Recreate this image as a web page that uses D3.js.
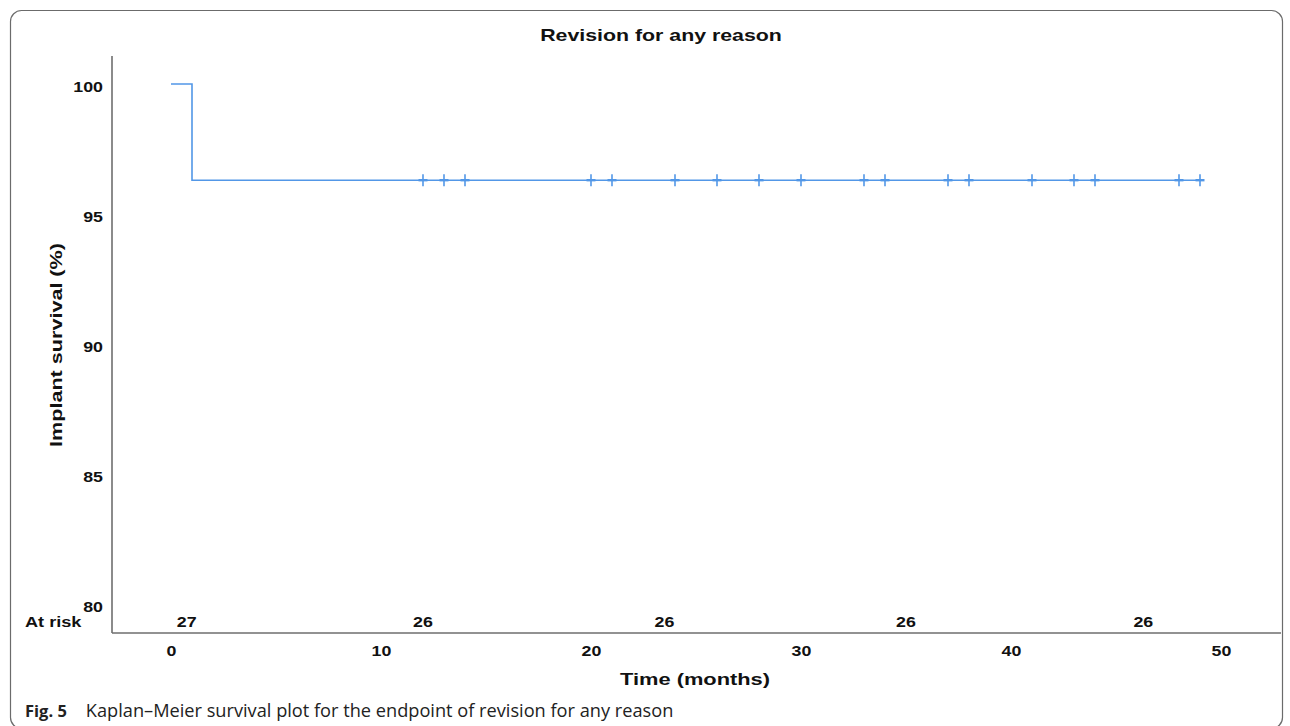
<!DOCTYPE html>
<html>
<head>
<meta charset="utf-8">
<script src="https://cdn.jsdelivr.net/npm/d3@7"></script>
<style>
  html, body { margin: 0; padding: 0; background: #fff; }
  svg { display: block; }
</style>
</head>
<body>
<svg id="chart" width="1290" height="726"></svg>
<script>
// ---- data ----
const title = "Revision for any reason";
const xLabel = "Time (months)";
const yLabel = "Implant survival (%)";
const captionLead = "Fig. 5";
const caption = "Kaplan–Meier survival plot for the endpoint of revision for any reason";
const xTicks = [0, 10, 20, 30, 40, 50];
const yTicks = [80, 85, 90, 95, 100];
// KM step points: [time, survival %]
const stepTimes = [0, 1, 49];
const stepSurvival = [100, 96.3, 96.3];
// censored observations (months)
const censorTimes = [12, 13, 14, 20, 21, 24, 26, 28, 30, 33, 34, 37, 38, 41, 43, 44, 48, 49];
// numbers at risk
const atRiskTimes = [0.75, 12, 23.5, 35, 46.3];
const atRiskCounts = [27, 26, 26, 26, 26];

// ---- layout ----
const svg = d3.select("#chart");
const x = d3.scaleLinear().domain([0, 50]).range([171, 1221]);
const y = d3.scaleLinear().domain([80, 100]).range([604, 84]);
const axisX0 = 112, axisY0 = 633, axisTop = 56, axisRight = 1281;
const blue = "#5297e7";
const bold = "'Liberation Sans', Arial, Helvetica, sans-serif";
const SX = 1.27; // horizontal stretch of the figure's text

// frame
svg.append("rect")
  .attr("x", 10.5).attr("y", 10.5)
  .attr("width", 1272).attr("height", 718)
  .attr("rx", 11).attr("ry", 11)
  .attr("fill", "none").attr("stroke", "#6b6b6b").attr("stroke-width", 1.2);

function stretchedText(px, py, size, txt, anchor, rot) {
  return svg.append("text")
    .attr("transform", `translate(${px},${py})` + (rot ? ` rotate(${rot})` : "") + ` scale(${SX},1)`)
    .attr("text-anchor", anchor || "start")
    .attr("font-family", bold).attr("font-weight", "bold").attr("font-size", size)
    .attr("fill", "#111")
    .text(txt);
}

// title
stretchedText(661, 41, 16.8, title, "middle");

// axes lines
svg.append("line")
  .attr("x1", axisX0).attr("x2", axisX0).attr("y1", axisTop).attr("y2", axisY0)
  .attr("stroke", "#6e6e6e").attr("stroke-width", 1.6);
svg.append("line")
  .attr("x1", axisX0).attr("x2", axisRight).attr("y1", axisY0).attr("y2", axisY0)
  .attr("stroke", "#6e6e6e").attr("stroke-width", 1.6);

// y tick labels
const yAxis = d3.axisLeft(y).tickValues(yTicks).tickSize(0).tickPadding(0);
const gy = svg.append("g").attr("transform", `translate(${axisX0 - 9},0)`).call(yAxis);
gy.select(".domain").remove();
gy.selectAll("text")
  .attr("font-family", bold).attr("font-weight", "bold").attr("font-size", 14)
  .attr("fill", "#111")
  .attr("dy", "0.55em")
  .attr("transform", `scale(${SX},1)`);

// x tick labels
const xAxis = d3.axisBottom(x).tickValues(xTicks).tickSize(0).tickPadding(0);
const gx = svg.append("g").attr("transform", `translate(0,${axisY0 + 13})`).call(xAxis);
gx.select(".domain").remove();
gx.selectAll("text")
  .attr("font-family", bold).attr("font-weight", "bold").attr("font-size", 14)
  .attr("fill", "#111")
  .attr("dy", "0.72em")
  .attr("transform", `scale(${SX},1)`);

// axis titles
stretchedText(695, 685, 17.2, xLabel, "middle");
stretchedText(62, 345, 17, yLabel, "middle", -90);

// KM step line
const kmData = stepTimes.map((t, i) => [t, stepSurvival[i]]);
const line = d3.line().x(d => x(d[0])).y(d => y(d[1])).curve(d3.curveStepAfter);
svg.append("path")
  .datum(kmData)
  .attr("d", line)
  .attr("fill", "none").attr("stroke", blue).attr("stroke-width", 1.6);

// censor marks (plus signs)
const survAt = t => { let s = stepSurvival[0]; stepTimes.forEach((st, i) => { if (t >= st) s = stepSurvival[i]; }); return s; };
const cg = svg.append("g");
cg.selectAll("line.v")
  .data(censorTimes)
  .join("line").attr("class", "v")
  .attr("x1", d => x(d)).attr("x2", d => x(d))
  .attr("y1", d => y(survAt(d)) - 6).attr("y2", d => y(survAt(d)) + 6)
  .attr("stroke", blue).attr("stroke-width", 1.6);
cg.selectAll("line.h")
  .data(censorTimes)
  .join("line").attr("class", "h")
  .attr("x1", d => x(d) - 4.5).attr("x2", d => x(d) + 4.5)
  .attr("y1", d => y(survAt(d))).attr("y2", d => y(survAt(d)))
  .attr("stroke", blue).attr("stroke-width", 2.4);

// at risk
stretchedText(25, 627, 14.3, "At risk", "start");
svg.append("g").selectAll("text")
  .data(atRiskTimes)
  .join("text")
  .attr("transform", d => `translate(${x(d)},627) scale(${SX},1)`)
  .attr("text-anchor", "middle")
  .attr("font-family", bold).attr("font-weight", "bold").attr("font-size", 14)
  .attr("fill", "#111")
  .text((d, i) => atRiskCounts[i]);

// caption
const cap = svg.append("text")
  .attr("x", 25).attr("y", 717)
  .attr("font-family", "'Open Sans', 'Noto Sans', sans-serif")
  .attr("fill", "#222");
cap.append("tspan").attr("font-weight", "bold").attr("font-size", 16.5).text(captionLead);
cap.append("tspan").attr("dx", 19).attr("font-size", 18.2).text(caption);
</script>
</body>
</html>
